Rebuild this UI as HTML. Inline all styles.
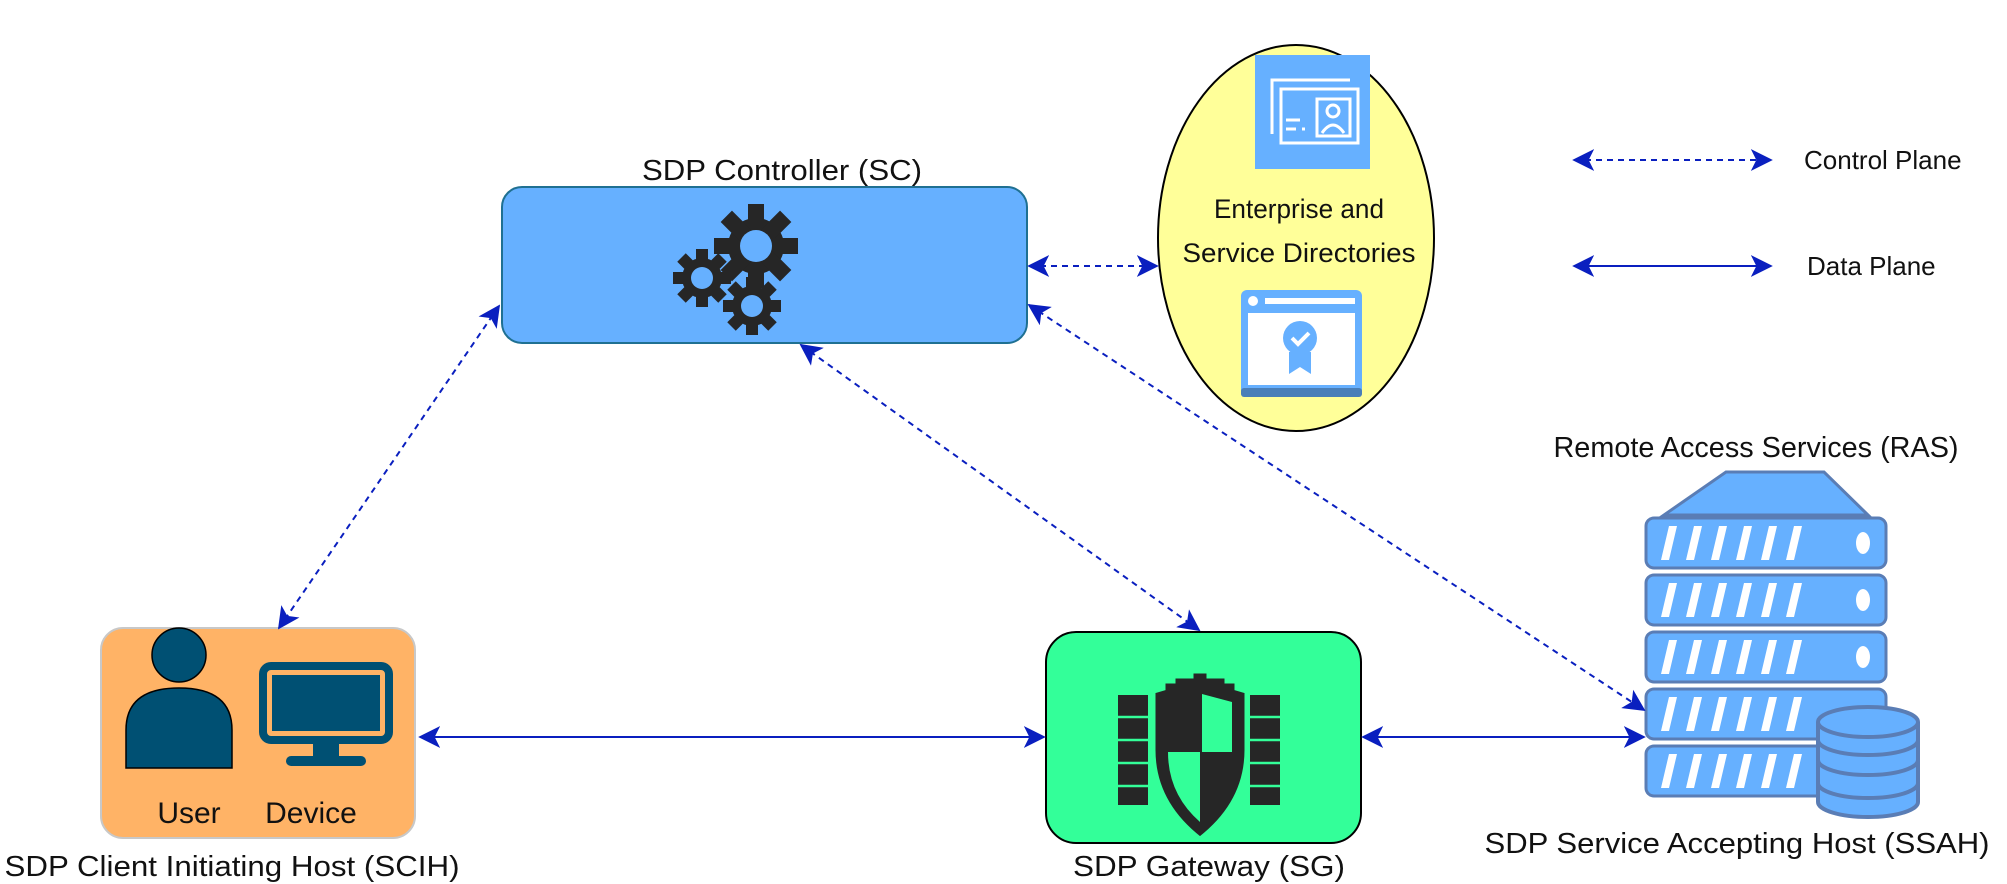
<!DOCTYPE html>
<html><head><meta charset="utf-8"><style>
html,body{margin:0;padding:0;background:#fff;}
svg{display:block;}
text{font-family:"Liberation Sans",Arial,sans-serif;fill:#111;}
</style></head><body>
<svg width="2007" height="884" viewBox="0 0 2007 884" xmlns="http://www.w3.org/2000/svg">
<defs>
<marker id="a" viewBox="0 0 12 12" refX="11" refY="6" markerWidth="22" markerHeight="22" orient="auto-start-reverse" markerUnits="userSpaceOnUse">
<path d="M0,0 L12,6 L0,12 L3,6 Z" fill="#0a1fbf"/>
</marker>
</defs>

<!-- Controller -->
<text x="782" y="180" font-size="29" text-anchor="middle" textLength="280" lengthAdjust="spacingAndGlyphs">SDP Controller (SC)</text>
<rect x="502" y="187" width="525" height="156" rx="20" fill="#66b0ff" stroke="#1f7092" stroke-width="2"/>
<g fill="#262626">
 <g transform="translate(756,246)">
  <circle r="28"/>
  <g><rect x="-8" y="-42" width="16" height="84"/><rect x="-8" y="-42" width="16" height="84" transform="rotate(45)"/><rect x="-8" y="-42" width="16" height="84" transform="rotate(90)"/><rect x="-8" y="-42" width="16" height="84" transform="rotate(135)"/></g>
  <circle r="16" fill="#66b0ff"/>
 </g>
 <g transform="translate(702,278)">
  <circle r="20"/>
  <g><rect x="-6" y="-29" width="12" height="58"/><rect x="-6" y="-29" width="12" height="58" transform="rotate(45)"/><rect x="-6" y="-29" width="12" height="58" transform="rotate(90)"/><rect x="-6" y="-29" width="12" height="58" transform="rotate(135)"/></g>
  <circle r="11" fill="#66b0ff"/>
 </g>
 <g transform="translate(752,306)">
  <circle r="20"/>
  <g><rect x="-6" y="-29" width="12" height="58"/><rect x="-6" y="-29" width="12" height="58" transform="rotate(45)"/><rect x="-6" y="-29" width="12" height="58" transform="rotate(90)"/><rect x="-6" y="-29" width="12" height="58" transform="rotate(135)"/></g>
  <circle r="11" fill="#66b0ff"/>
 </g>
</g>

<!-- Ellipse -->
<ellipse cx="1296" cy="238" rx="138" ry="193" fill="#ffff99" stroke="#000" stroke-width="2"/>
<rect x="1255" y="55" width="115" height="114" fill="#66b0ff"/>
<g fill="none" stroke="#fff" stroke-width="3">
 <path d="M1272,134 V80 H1350"/>
 <rect x="1281" y="89" width="77" height="54"/>
 <rect x="1317" y="99" width="33" height="37"/>
 <circle cx="1333" cy="111" r="6"/>
 <path d="M1322,133 q11,-16 22,0"/>
 <path d="M1286,120 h14 M1286,129 h10 M1302,129 h3"/>
</g>
<text x="1299" y="218" font-size="27" text-anchor="middle" textLength="170" lengthAdjust="spacingAndGlyphs">Enterprise and</text>
<text x="1299" y="262" font-size="27" text-anchor="middle" textLength="233" lengthAdjust="spacingAndGlyphs">Service Directories</text>
<rect x="1241" y="290" width="121" height="107" rx="6" fill="#66b0ff"/>
<rect x="1241" y="388" width="121" height="9" rx="3" fill="#4a7fb8"/>
<rect x="1248" y="313" width="107" height="72" fill="#fff"/>
<circle cx="1253" cy="301" r="5" fill="#fff"/>
<rect x="1265" y="298" width="90" height="6" fill="#fff"/>
<circle cx="1300" cy="338" r="17" fill="#66b0ff"/>
<path d="M1289,352 v22 l11,-7 l11,7 v-22 z" fill="#66b0ff"/>
<path d="M1292,338 l6,6 l11,-11" stroke="#fff" stroke-width="4" fill="none"/>

<!-- Legend -->
<line x1="1574" y1="160" x2="1771" y2="160" stroke="#0a1fbf" stroke-width="2" stroke-dasharray="6,5" marker-start="url(#a)" marker-end="url(#a)"/>
<text x="1804" y="169" font-size="26">Control Plane</text>
<line x1="1574" y1="266" x2="1771" y2="266" stroke="#0a1fbf" stroke-width="2" marker-start="url(#a)" marker-end="url(#a)"/>
<text x="1807" y="275" font-size="26">Data Plane</text>

<!-- Client -->
<rect x="101" y="628" width="314" height="210" rx="22" fill="#ffb366" stroke="#c8c8c8" stroke-width="2"/>
<circle cx="179" cy="655" r="27" fill="#005073" stroke="#000" stroke-width="1.5"/>
<path d="M126,768 V730 q0,-42 53,-42 q53,0 53,42 V768 Z" fill="#005073" stroke="#000" stroke-width="1.5"/>
<rect x="263" y="666" width="126" height="74" rx="8" fill="none" stroke="#005073" stroke-width="8"/>
<rect x="272" y="675" width="108" height="56" fill="#005073"/>
<rect x="313" y="742" width="26" height="18" fill="#005073"/>
<rect x="286" y="756" width="80" height="10" rx="5" fill="#005073"/>
<text x="189" y="823" font-size="30" text-anchor="middle">User</text>
<text x="311" y="823" font-size="30" text-anchor="middle">Device</text>
<text x="232" y="876" font-size="29" text-anchor="middle" textLength="455" lengthAdjust="spacingAndGlyphs">SDP Client Initiating Host (SCIH)</text>

<!-- Gateway -->
<rect x="1046" y="632" width="315" height="211" rx="30" fill="#33ff99" stroke="#000" stroke-width="2"/>
<g fill="#262626">
 <rect x="1118" y="695" width="30" height="110"/>
 <rect x="1250" y="695" width="30" height="110"/>
</g>
<g stroke="#33ff99" stroke-width="2.5">
 <line x1="1118" y1="717" x2="1148" y2="717"/><line x1="1118" y1="740" x2="1148" y2="740"/><line x1="1118" y1="763" x2="1148" y2="763"/><line x1="1118" y1="786" x2="1148" y2="786"/>
 <line x1="1250" y1="717" x2="1280" y2="717"/><line x1="1250" y1="740" x2="1280" y2="740"/><line x1="1250" y1="763" x2="1280" y2="763"/><line x1="1250" y1="786" x2="1280" y2="786"/>
</g>
<path d="M1154,692 l10,-3 v-7 h10 v-5 h18 v-5 h16 v5 h18 v5 h10 v7 l10,3 v58 q0,52 -46,88 q-46,-36 -46,-88 z" fill="#262626" stroke="#33ff99" stroke-width="3"/>
<path d="M1202,694 l30,8 v50 h-30 z M1168,752 h32 v70 q-32,-28 -32,-70 z" fill="#33ff99"/>
<text x="1209" y="876" font-size="29" text-anchor="middle" textLength="272" lengthAdjust="spacingAndGlyphs">SDP Gateway (SG)</text>

<!-- Server -->
<text x="1756" y="457" font-size="29" text-anchor="middle" textLength="405" lengthAdjust="spacingAndGlyphs">Remote Access Services (RAS)</text>
<path d="M1726,472 H1824 L1868,515 H1664 Z" fill="#66b0ff" stroke="#5a7db5" stroke-width="3"/>
<g fill="#66b0ff" stroke="#5a7db5" stroke-width="3">
 <rect x="1646" y="518" width="240" height="50" rx="8"/>
 <rect x="1646" y="575" width="240" height="50" rx="8"/>
 <rect x="1646" y="632" width="240" height="50" rx="8"/>
 <rect x="1646" y="689" width="240" height="50" rx="8"/>
 <rect x="1646" y="746" width="240" height="50" rx="8"/>
</g>
<g fill="#fff">
 <g id="st"><path d="M1661,560 l8,-34 h8 l-8,34 z M1686,560 l8,-34 h8 l-8,34 z M1711,560 l8,-34 h8 l-8,34 z M1736,560 l8,-34 h8 l-8,34 z M1761,560 l8,-34 h8 l-8,34 z M1786,560 l8,-34 h8 l-8,34 z"/></g>
 <use href="#st" y="57"/><use href="#st" y="114"/><use href="#st" y="171"/><use href="#st" y="228"/>
 <ellipse cx="1863" cy="543" rx="7" ry="11"/>
 <ellipse cx="1863" cy="600" rx="7" ry="11"/>
 <ellipse cx="1863" cy="657" rx="7" ry="11"/>
</g>
<g fill="#66b0ff" stroke="#5a7db5" stroke-width="4">
 <path d="M1818,722 V802 a50,15 0 0 0 100,0 V722"/>
 <path d="M1818,760 a50,15 0 0 0 100,0" fill="none"/>
 <path d="M1818,783 a50,15 0 0 0 100,0" fill="none"/>
 <path d="M1818,740 a50,15 0 0 0 100,0" fill="none"/>
 <ellipse cx="1868" cy="722" rx="50" ry="15"/>
</g>
<text x="1737" y="853" font-size="29" text-anchor="middle" textLength="505" lengthAdjust="spacingAndGlyphs">SDP Service Accepting Host (SSAH)</text>

<!-- Connectors -->
<g stroke="#0a1fbf" stroke-width="2" fill="none">
 <line x1="499" y1="306" x2="279" y2="628" stroke-dasharray="6,5" marker-start="url(#a)" marker-end="url(#a)"/>
 <line x1="1029" y1="266" x2="1157" y2="266" stroke-dasharray="6,5" marker-start="url(#a)" marker-end="url(#a)"/>
 <line x1="801" y1="345" x2="1199" y2="630" stroke-dasharray="6,5" marker-start="url(#a)" marker-end="url(#a)"/>
 <line x1="1029" y1="305" x2="1644" y2="710" stroke-dasharray="6,5" marker-start="url(#a)" marker-end="url(#a)"/>
 <line x1="420" y1="737" x2="1044" y2="737" marker-start="url(#a)" marker-end="url(#a)"/>
 <line x1="1363" y1="737" x2="1644" y2="737" marker-start="url(#a)" marker-end="url(#a)"/>
</g>
</svg>
</body></html>
